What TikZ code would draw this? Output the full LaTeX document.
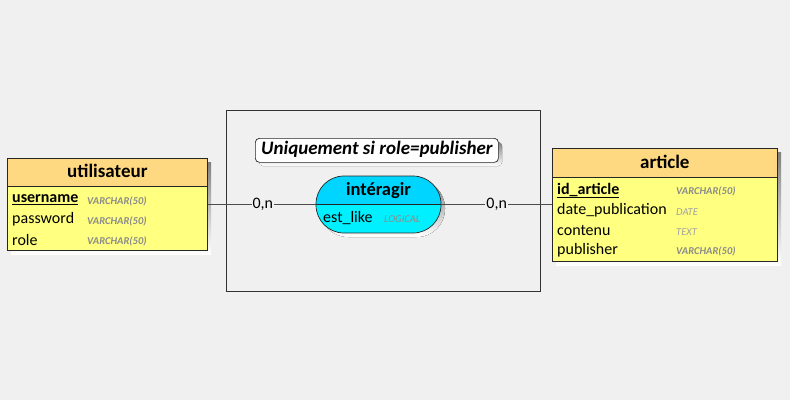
\documentclass[tikz,border=0pt]{standalone}
\usepackage{fontspec}
\setmainfont{Carlito}
\definecolor{bg}{HTML}{F0F0F0}
\definecolor{enthead}{HTML}{FFD981}
\definecolor{entbody}{HTML}{FFFF80}
\definecolor{ashead}{HTML}{00D5FF}
\definecolor{asbody}{HTML}{00F0FF}
\definecolor{shade}{HTML}{B0B0B0}
\definecolor{typegray}{HTML}{8A8A8A}
\tikzset{
  box/.style={draw=black!85, line width=0.7pt, anchor=north west, inner sep=0pt},
  title/.style={font=\fontsize{19}{21}\selectfont\bfseries, inner sep=0pt},
  field/.style={font=\fontsize{16}{18}\selectfont, anchor=west, inner sep=0pt},
  ftype/.style={font=\fontsize{10.5}{12}\selectfont\bfseries\itshape, text=typegray, anchor=west, inner sep=0pt},
  ftypelight/.style={font=\fontsize{10.5}{12}\selectfont\itshape, text=typegray!80, anchor=west, inner sep=0pt},
  card/.style={font=\fontsize{16}{18}\selectfont, fill=bg, inner sep=1pt},
  link/.style={draw=black!70, line width=0.7pt},
}
\begin{document}
\begin{tikzpicture}[x=1pt,y=-1pt]
\useasboundingbox[fill=bg] (0,0) rectangle (790,400);
% frame
\node[box, draw=black!80, minimum width=314pt, minimum height=181pt] (frame) at (226,110) {};
% ---- utilisateur
\fill[shade] (11,162) rectangle (211,254);
\node[box, fill=enthead, minimum width=200pt, minimum height=28pt] (uh) at (7,158) {};
\node[box, fill=entbody, minimum width=200pt, minimum height=64pt] (ub) at (7,186) {};
\node[title] (ut) at ([yshift=1pt]uh.center) {utilisateur};
\node[field, font=\fontsize{16}{18}\selectfont\bfseries] (u1) at (12,200) {\underline{username}};
\node[field] (u2) at (12,219.5) {password};
\node[field] (u3) at (12,240) {role};
\node[ftype] (u1t) at (87,201) {VARCHAR(50)};
\node[ftype] (u2t) at (87,221) {VARCHAR(50)};
\node[ftype] (u3t) at (87,241) {VARCHAR(50)};
% ---- article
\fill[shade] (556,152) rectangle (781,265);
\node[box, fill=enthead, minimum width=225pt, minimum height=29pt] (ah) at (552,148) {};
\node[box, fill=entbody, minimum width=225pt, minimum height=84pt] (ab) at (552,177) {};
\node[title] (at) at ([yshift=1pt]ah.center) {article};
\node[field, font=\fontsize{16}{18}\selectfont\bfseries] (a1) at (557,190.5) {\underline{id\_article}};
\node[field] (a2) at (557,210.5) {date\_publication};
\node[field] (a3) at (557,230.5) {contenu};
\node[field] (a4) at (557,250) {publisher};
\node[ftype] (a1t) at (676,191) {VARCHAR(50)};
\node[ftypelight] (a2t) at (676,212) {DATE};
\node[ftypelight] (a3t) at (676,232) {TEXT};
\node[ftype] (a4t) at (676,251) {VARCHAR(50)};
% ---- note
\fill[shade, rounded corners=4pt] (259,142) rectangle (502,166);
\node[box, fill=white!97!bg, rounded corners=4pt, minimum width=243pt, minimum height=24pt] (note) at (255,138) {};
\node[font=\fontsize{19}{21}\selectfont\bfseries\itshape, inner sep=0pt] (notet) at ([yshift=1pt]note.center) {Uniquement si role=publisher};
% ---- association
\fill[shade, rounded corners=28pt] (320,180) rectangle (445,237);
\node[draw=black!85, line width=0.7pt, rounded corners=28pt, minimum width=125pt, minimum height=57pt, inner sep=0pt,
  path picture={
    \fill[ashead, sharp corners] (path picture bounding box.north west) rectangle (path picture bounding box.east);
    \fill[asbody, sharp corners] (path picture bounding box.west) rectangle (path picture bounding box.south east);
    \draw[black!85, line width=0.7pt, sharp corners] (path picture bounding box.west) -- (path picture bounding box.east);
  }] (as) at (378.5,204.5) {};
\node[title, font=\fontsize{18.5}{20}\selectfont\bfseries] (ast) at (378.5,191) {intéragir};
\node[field] (as1) at (323,218) {est\_like};
\node[ftypelight, text=black!45] (as1t) at (384,219) {LOGICAL};
% ---- links
\draw[link] (as.west) -- (as.west -| ub.east) node[card, pos=0.49] (c1) {0,n};
\draw[link] (as.east) -- (as.east -| ab.west) node[card, pos=0.5] (c2) {0,n};
\end{tikzpicture}
\end{document}
